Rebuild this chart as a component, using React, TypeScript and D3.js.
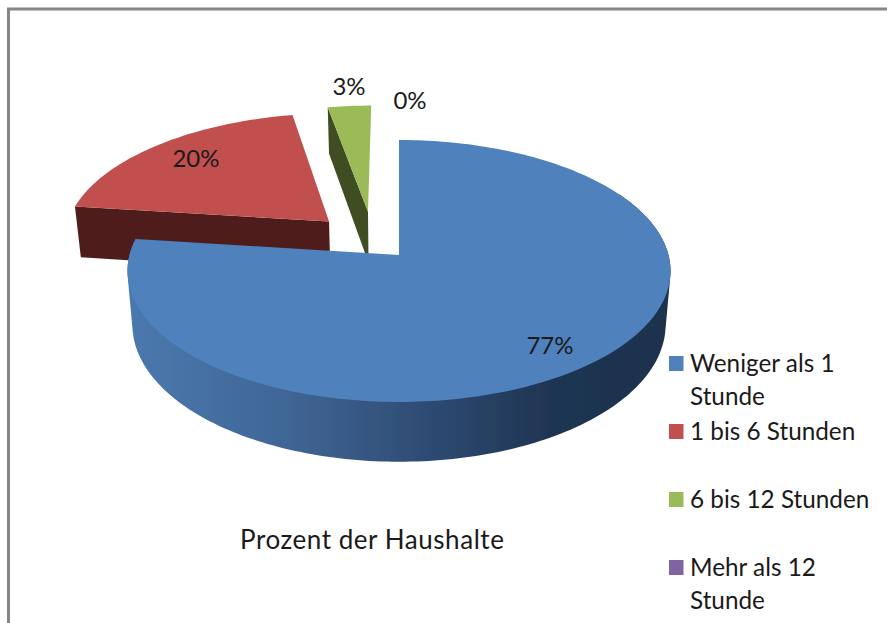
import React from "react";
import * as d3 from "d3";

const categories = ["Weniger als 1 Stunde", "1 bis 6 Stunden", "6 bis 12 Stunden", "Mehr als 12 Stunde"];
const values = [77, 20, 3, 0];
const pctLabels = ["77%", "20%", "3%", "0%"];
const topColors = ["#4f81bd", "#c0504d", "#9bbb59", "#8064a2"];
const wallColors = ["url(#blueWall)", "#4f1f1e", "#3f4d22", "#4a3a5e"];
const legendLines = [["Weniger als 1", "Stunde"], ["1 bis 6 Stunden"], ["6 bis 12 Stunden"], ["Mehr als 12", "Stunde"]];
const explodeU = [0, -0.268, -0.12, 0];
const explodeV = [0, 0.268, 0.349, 0];
const labelPos = [[550, 346], [196, 159], [349, 87], [410, 101]];
const legendY = [372, 440, 508, 576];

const FONT = "Lato, 'Open Sans', sans-serif";
const CX = 399;
const K = 0.122;
const top = { rx: 269.5, ry: 129, cy: 255 };
const bottom = { rx: 264.6, ry: 135, cy: 308 };

type Lv = typeof top;
const project = (u: number, v: number, l: Lv): [number, number] => {
  const w = 1 + K * v;
  return [CX + (l.rx * u) / w, l.cy - (l.ry * v) / w];
};
const line = d3.line<[number, number]>();

const arcs = d3.pie<number>().sort(null).value((d) => d)(values);

function rimAngles(a0: number, a1: number) {
  const n = Math.max(2, Math.ceil((a1 - a0) / 0.02));
  return d3.range(n + 1).map((i) => a0 + ((a1 - a0) * i) / n);
}

function rim(i: number, angles: number[], l: Lv) {
  return angles.map((a) => project(Math.sin(a) + explodeU[i], Math.cos(a) + explodeV[i], l));
}

function apex(i: number, l: Lv) {
  return project(explodeU[i], explodeV[i], l);
}

function hullPath(i: number, a0: number, a1: number) {
  const angles = rimAngles(a0, a1);
  const hull = d3.polygonHull([...rim(i, angles, top), ...rim(i, angles, bottom)]);
  return line(hull as [number, number][]) + "Z";
}

export default function App() {
  const drawOrder = [1, 2, 0];
  return (
    <svg width={887} height={623} style={{ position: "fixed", left: 0, top: 0, display: "block", background: "#fff" }}>
      <defs>
        <linearGradient id="blueWall" gradientUnits="userSpaceOnUse" x1={130} x2={670} y1={0} y2={0}>
          <stop offset="0" stopColor="#4a79ae" />
          <stop offset="0.3" stopColor="#3f6594" />
          <stop offset="0.55" stopColor="#2e4b73" />
          <stop offset="0.78" stopColor="#1f3552" />
          <stop offset="1" stopColor="#1c314d" />
        </linearGradient>
        <filter id="soft" x="-5%" y="-5%" width="110%" height="110%">
          <feGaussianBlur stdDeviation="0.5" />
        </filter>
      </defs>
      <path d="M8.5 623V9H887" fill="none" stroke="#868686" strokeWidth={3} />
      <g filter="url(#soft)">
        {drawOrder.map((i) => {
          const a = arcs[i];
          const angles = rimAngles(a.startAngle, a.endAngle);
          const topRim = rim(i, angles, top);
          let wall: string;
          if (i === 0) {
            wall = hullPath(i, Math.PI / 3, Math.PI + 0.1) + hullPath(i, Math.PI, a.endAngle);
          } else {
            const edge = a.startAngle;
            wall = line([rim(i, [edge], top)[0], apex(i, top), apex(i, bottom), rim(i, [edge], bottom)[0]]) + "Z";
          }
          const face = [apex(i, top), ...topRim];
          return (
            <g key={categories[i]}>
              <path d={wall} fill={wallColors[i]} />
              <path d={line(face) + "Z"} fill={topColors[i]} />
            </g>
          );
        })}
      </g>
      <g fontFamily={FONT} fontSize={24} fill="#1a1a1a" textAnchor="middle">
        {pctLabels.map((t, i) => (
          <text key={t} x={labelPos[i][0]} y={labelPos[i][1] + 8}>{t}</text>
        ))}
      </g>
      <text x={240} y={549} fontFamily={FONT} fontSize={26} letterSpacing={0.55} fill="#1a1a1a">Prozent der Haushalte</text>
      <g fontFamily={FONT} fontSize={24.3} fill="#1a1a1a">
        {categories.map((c, i) => (
          <g key={c}>
            <rect x={669} y={legendY[i] - 16} width={14.5} height={15} fill={topColors[i]} />
            {legendLines[i].map((l, j) => (
              <text key={l} x={690} y={legendY[i] + j * 32.5}>{l}</text>
            ))}
          </g>
        ))}
      </g>
    </svg>
  );
}
